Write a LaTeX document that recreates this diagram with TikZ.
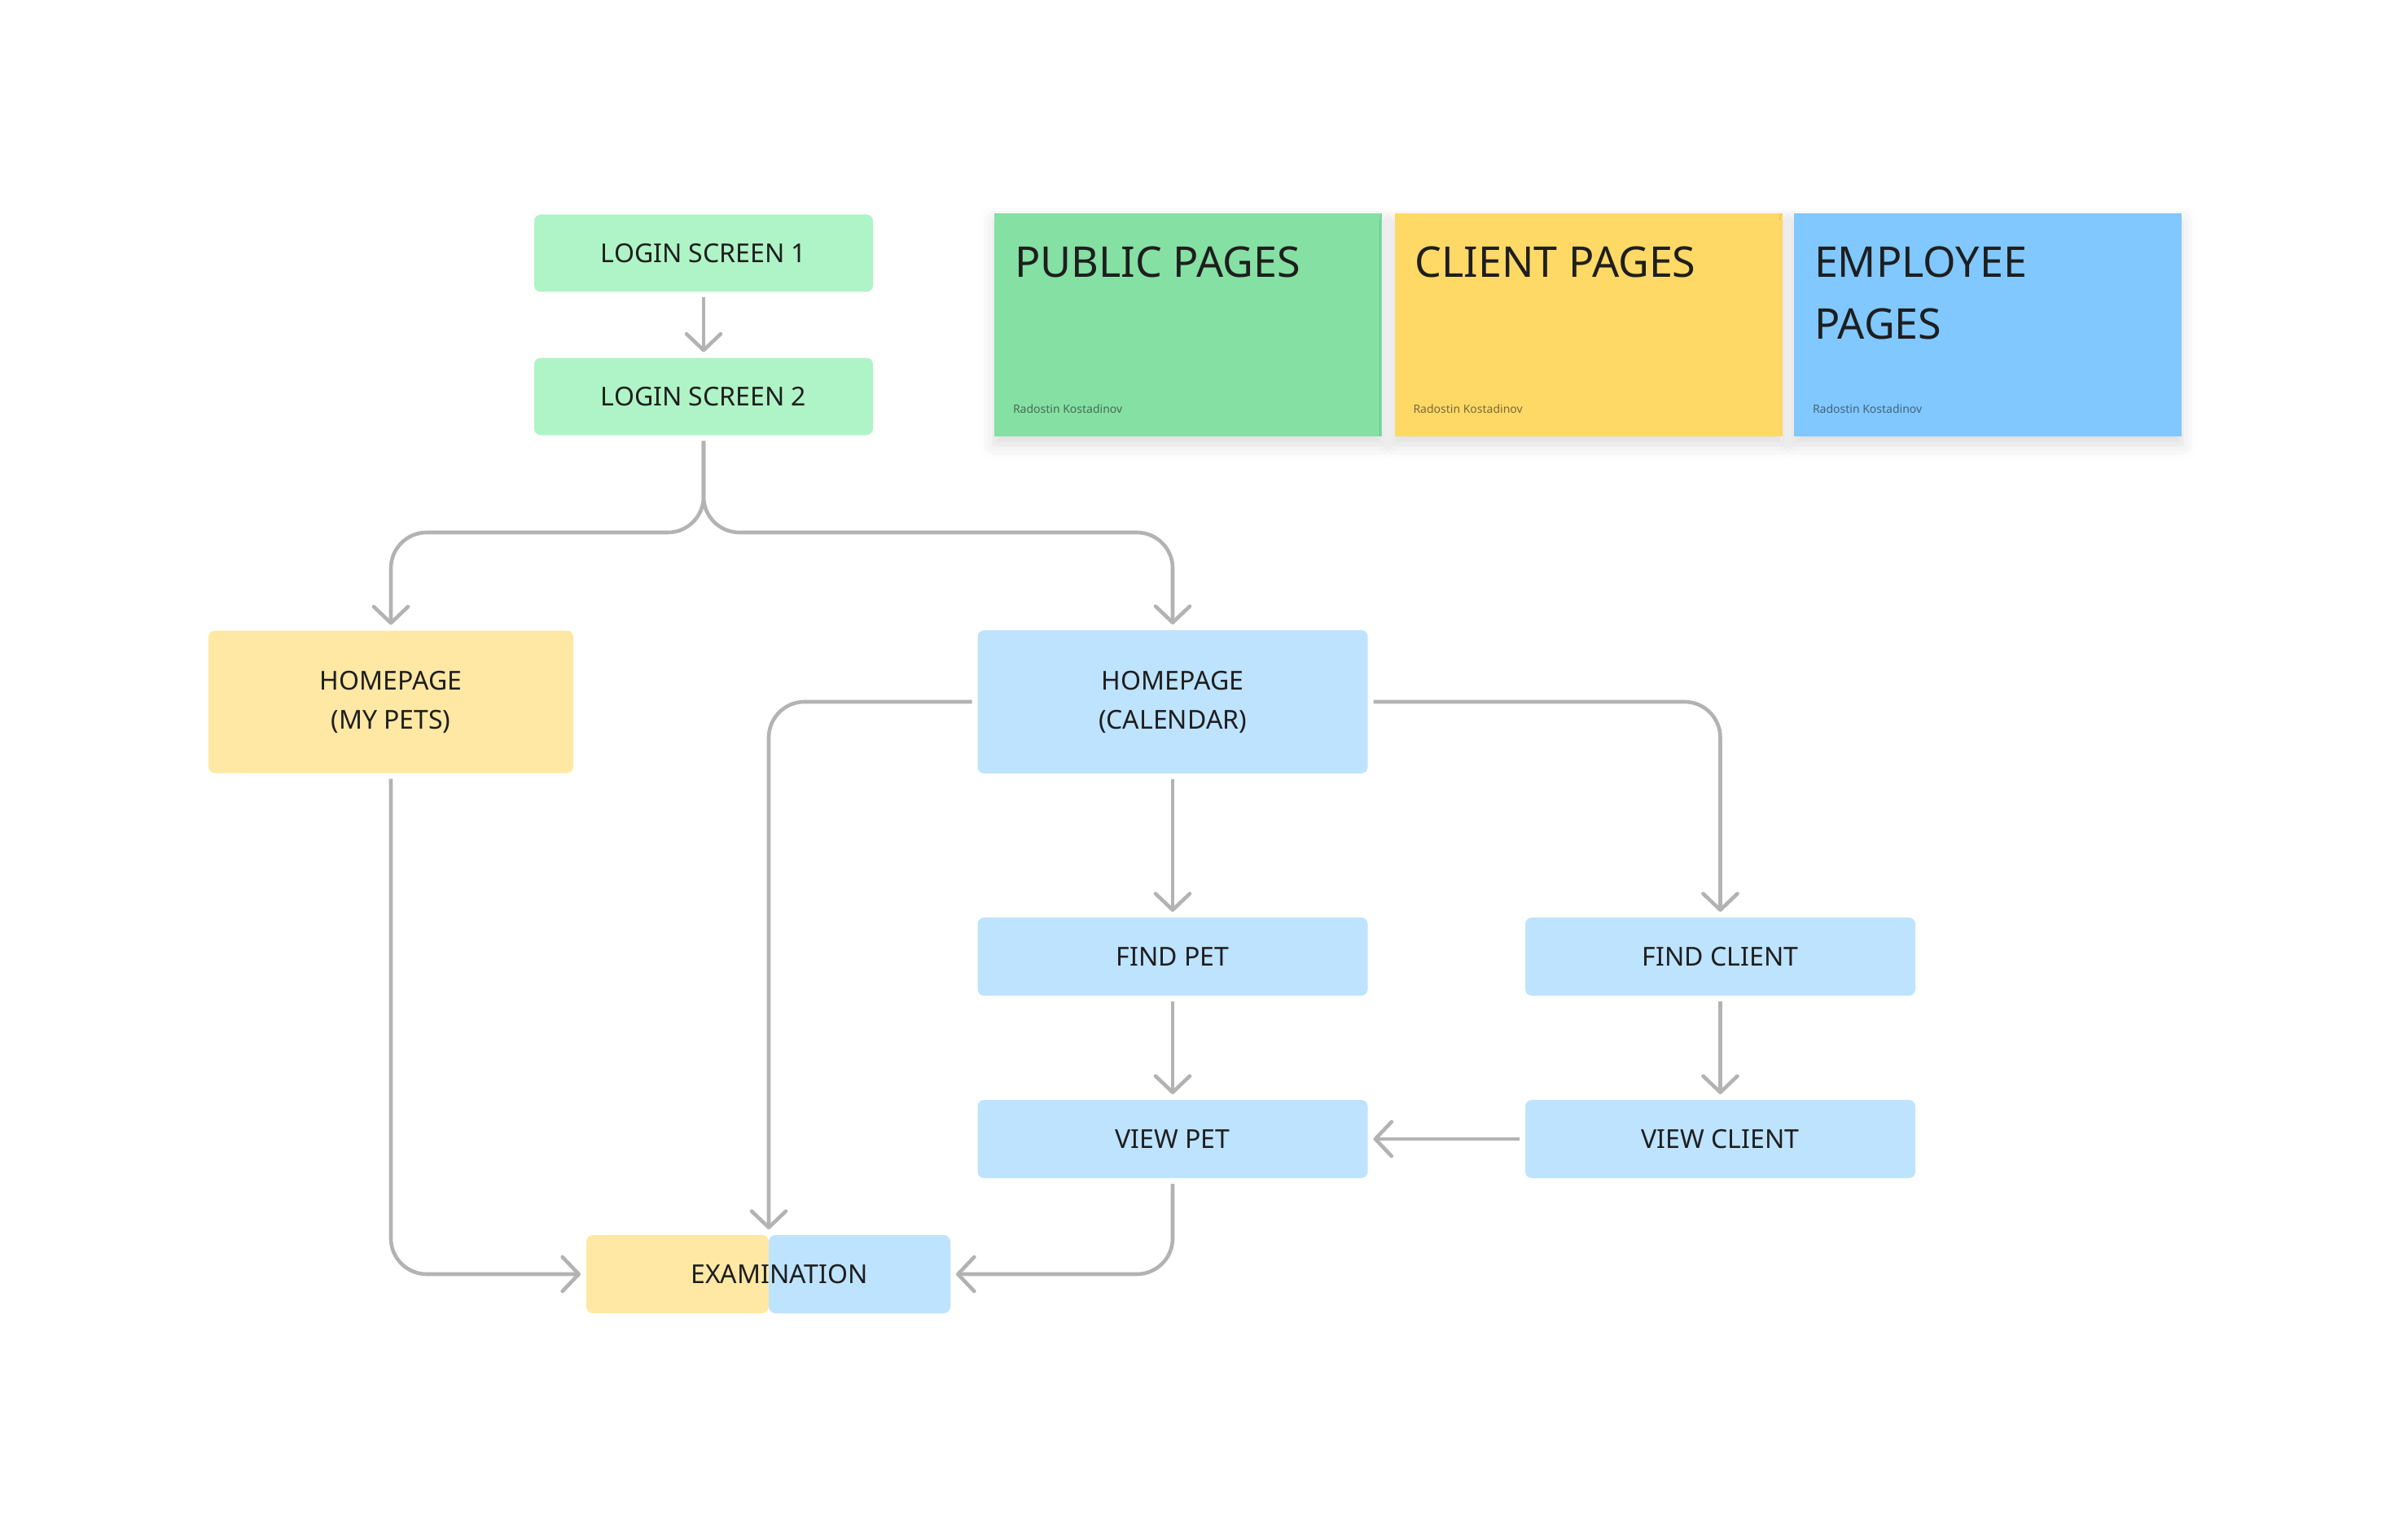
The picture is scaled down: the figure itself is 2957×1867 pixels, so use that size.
\documentclass[tikz,border=0pt]{standalone}
\usepackage{fontspec}
\setmainfont{Noto Sans}
\usetikzlibrary{arrows.meta,calc,shadows.blur}
\definecolor{loginfill}{HTML}{AFF4C6}
\definecolor{clientfill}{HTML}{FFE8A3}
\definecolor{employeefill}{HTML}{BDE3FF}
\definecolor{publicnote}{HTML}{85E0A3}
\definecolor{clientnote}{HTML}{FFD966}
\definecolor{employeenote}{HTML}{80C8FF}
\definecolor{linkgray}{HTML}{B3B3B3}
\definecolor{inkdark}{HTML}{1E1E1E}

\begin{document}
\begin{tikzpicture}[x=0.5pt, y=-0.5pt,
  page/.style={rounded corners=4pt, inner sep=0pt, outer sep=3.5pt, text=inkdark, align=center,
    font=\fontsize{16}{24}\selectfont},
  publicpage/.style={page, fill=loginfill, minimum width=208pt, minimum height=47.5pt},
  clientpage/.style={page, fill=clientfill},
  employeepage/.style={page, fill=employeefill},
  note/.style={inner sep=0pt, minimum width=238pt, minimum height=137pt,
    blur shadow={shadow xshift=0pt, shadow yshift=-5pt, shadow blur radius=9pt, shadow opacity=14}},
  notetitle/.style={anchor=north west, inner sep=0pt, align=left, text=inkdark,
    font=\fontsize{26}{38}\selectfont},
  noteauthor/.style={anchor=base west, inner sep=0pt, text=inkdark, text opacity=0.6,
    font=\fontsize{7}{9}\selectfont},
  link/.style={draw=linkgray, line width=2.3pt, rounded corners=22pt,
    -{Straight Barb[length=10pt,width=21pt,round]}}]
\useasboundingbox (0,0) rectangle (2957,1867);

% legend notes
\node[note, fill=publicnote] (public) at (1459,399) {};
\node[note, fill=clientnote] (client) at (1950.5,399) {};
\node[note, fill=employeenote] (employee) at (2441,399) {};
\node[notetitle] (publictitle) at ([shift={(25,41)}]public.north west) {PUBLIC PAGES};
\node[notetitle] (clienttitle) at ([shift={(25,41)}]client.north west) {CLIENT PAGES};
\node[notetitle] (employeetitle) at ([shift={(25,41)}]employee.north west) {EMPLOYEE\\PAGES};
\node[noteauthor] (publicauthor) at ([shift={(23,246)}]public.north west) {Radostin Kostadinov};
\node[noteauthor] (clientauthor) at ([shift={(23,246)}]client.north west) {Radostin Kostadinov};
\node[noteauthor] (employeeauthor) at ([shift={(23,246)}]employee.north west) {Radostin Kostadinov};

% pages
\node[publicpage] (login1) at (864,311) {LOGIN SCREEN 1};
\node[publicpage] (login2) at (864,487) {LOGIN SCREEN 2};
\node[clientpage, minimum width=224pt, minimum height=87.5pt] (pets) at (480,862) {HOMEPAGE\\(MY PETS)};
\node[employeepage, minimum width=239.5pt, minimum height=88pt] (cal) at (1440,862) {HOMEPAGE\\(CALENDAR)};
\node[employeepage, minimum width=239.5pt, minimum height=48pt] (findpet) at (1440,1175) {FIND PET};
\node[employeepage, minimum width=239.5pt, minimum height=48pt] (findclient) at (2112.5,1175) {FIND CLIENT};
\node[employeepage, minimum width=239.5pt, minimum height=48pt] (viewpet) at (1440,1399) {VIEW PET};
\node[employeepage, minimum width=239.5pt, minimum height=48pt] (viewclient) at (2112.5,1399) {VIEW CLIENT};
\node[clientpage, minimum width=112pt, minimum height=48pt] (examL) at (832,1565) {};
\node[employeepage, minimum width=111.5pt, minimum height=48pt] (examR) at (1055.5,1565) {};
\node[page, outer sep=0pt] (examtext) at (957,1565) {EXAMINATION};

% links
\coordinate (fork) at (864,654);
\coordinate (examtop) at ($(examL.north east)!0.5!(examR.north west)$);
\draw[link] (login1.south) -- (login2.north);
\draw[link] (login2.south) -- (fork) -| (pets.north);
\draw[link] (login2.south) -- (fork) -| (cal.north);
\draw[link] (cal.east) -| (findclient.north);
\draw[link] (cal.south) -- (findpet.north);
\draw[link] (cal.west) -| (examtop);
\draw[link] (findpet.south) -- (viewpet.north);
\draw[link] (findclient.south) -- (viewclient.north);
\draw[link] (viewclient.west) -- (viewpet.east);
\draw[link] (pets.south) |- (examL.west);
\draw[link] (viewpet.south) |- (examR.east);

\end{tikzpicture}
\end{document}
